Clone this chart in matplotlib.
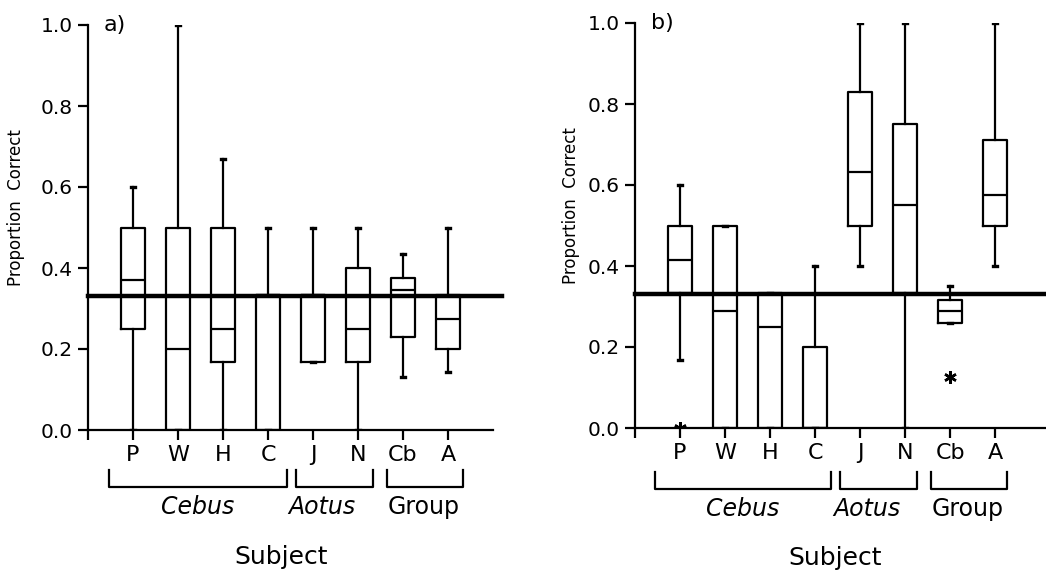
import matplotlib
matplotlib.use('Agg')
import matplotlib.pyplot as plt
from matplotlib.ticker import FormatStrFormatter

plt.rcParams['font.family'] = ['DejaVu Sans']

# subjects on the x axis
subjects = ['P', 'W', 'H', 'C', 'J', 'N', 'Cb', 'A']
chance = 0.33

# panel a) box statistics
a_whislo = [0.0, 0.0, 0.0, 0.0, 0.167, 0.0, 0.13, 0.143]
a_q1 = [0.25, 0.0, 0.167, 0.0, 0.167, 0.167, 0.23, 0.20]
a_med = [0.37, 0.20, 0.25, 0.333, 0.333, 0.25, 0.345, 0.275]
a_q3 = [0.50, 0.50, 0.50, 0.333, 0.333, 0.40, 0.375, 0.333]
a_whishi = [0.60, 1.0, 0.67, 0.50, 0.50, 0.50, 0.435, 0.50]
a_fliers = [[], [], [], [], [], [], [], []]

# panel b)
b_whislo = [0.167, 0.0, 0.0, 0.0, 0.40, 0.0, 0.26, 0.40]
b_q1 = [0.333, 0.0, 0.0, 0.0, 0.50, 0.333, 0.26, 0.50]
b_med = [0.415, 0.29, 0.25, 0.0, 0.633, 0.55, 0.29, 0.575]
b_q3 = [0.50, 0.50, 0.333, 0.20, 0.83, 0.75, 0.316, 0.71]
b_whishi = [0.60, 0.50, 0.333, 0.40, 1.0, 1.0, 0.35, 1.0]
b_fliers = [[0.0], [], [], [], [], [], [0.125], []]

groups = ['Cebus', 'Aotus', 'Group']
group_italic = [True, True, False]


def make_stats(lo, q1, med, q3, hi, fl):
    stats = []
    for i in range(len(subjects)):
        stats.append({'whislo': lo[i], 'q1': q1[i], 'med': med[i],
                      'q3': q3[i], 'whishi': hi[i], 'fliers': fl[i],
                      'label': subjects[i]})
    return stats


def draw_panel(ax, stats, xmax, line_end, tag, brackets, label_x, yb, subj_x, ylab_x):
    lw = 1.6
    ax.bxp(stats, positions=range(1, len(stats) + 1), widths=0.52,
           capwidths=0.1, showfliers=True,
           boxprops=dict(color='black', linewidth=lw),
           whiskerprops=dict(color='black', linewidth=lw),
           capprops=dict(color='black', linewidth=2.4),
           medianprops=dict(color='black', linewidth=lw),
           flierprops=dict(marker=(6, 2, 0), markersize=9,
                           markeredgecolor='black', markeredgewidth=1.8))
    ax.plot([0, line_end], [chance, chance], color='black', linewidth=3.2,
            clip_on=False, zorder=5)

    ax.set_xlim(0, xmax)
    ax.set_ylim(0, 1.0)
    ax.set_yticks([0.0, 0.2, 0.4, 0.6, 0.8, 1.0])
    ax.yaxis.set_major_formatter(FormatStrFormatter('%.1f'))
    ax.set_xticks(range(0, len(subjects) + 1))
    ax.set_xticklabels([''] + subjects)
    for s in ['top', 'right']:
        ax.spines[s].set_visible(False)
    for s in ['left', 'bottom']:
        ax.spines[s].set_linewidth(1.6)
    ax.tick_params(axis='y', direction='out', length=7, width=1.6,
                   labelsize=14.5, pad=4)
    ax.tick_params(axis='x', direction='out', length=7, width=1.6,
                   labelsize=16, pad=4)
    ax.set_ylabel('Proportion  Correct', fontsize=12, labelpad=4)
    ax.yaxis.set_label_coords(ylab_x, 0.55)
    ax.text(0.35, 1.0, tag, fontsize=16, ha='left', va='center')

    tr = ax.get_xaxis_transform()
    for (x0, x1), lx, name, it in zip(brackets, label_x, groups, group_italic):
        ax.plot([x0, x0, x1, x1], [yb[0], yb[1], yb[1], yb[0]], color='black',
                linewidth=1.6, transform=tr, clip_on=False)
        ax.text(lx, yb[2], name, transform=tr, ha='center', va='center',
                fontsize=17, style='italic' if it else 'normal')
    ax.text(subj_x, yb[3], 'Subject', transform=tr, ha='center', va='center',
            fontsize=18)


fig = plt.figure(figsize=(10.46, 5.74), dpi=100)
ax_a = fig.add_axes([88 / 1046, 144 / 574, 405 / 1046, 405 / 574])
ax_b = fig.add_axes([635 / 1046, 146 / 574, 411 / 1046, 405 / 574])

draw_panel(ax_a, make_stats(a_whislo, a_q1, a_med, a_q3, a_whishi, a_fliers),
           9.0, 9.2, 'a)',
           [(0.47, 4.42), (4.62, 6.33), (6.64, 8.33)], [2.43, 5.2, 7.46],
           [-0.099, -0.141, -0.19, -0.314], 4.3, -0.155)
draw_panel(ax_b, make_stats(b_whislo, b_q1, b_med, b_q3, b_whishi, b_fliers),
           9.13, 9.13, 'b)',
           [(0.44, 4.36), (4.56, 6.27), (6.58, 8.27)], [2.4, 5.15, 7.4],
           [-0.109, -0.151, -0.2, -0.321], 4.44, -0.135)

fig.savefig('out.png', dpi=100)
